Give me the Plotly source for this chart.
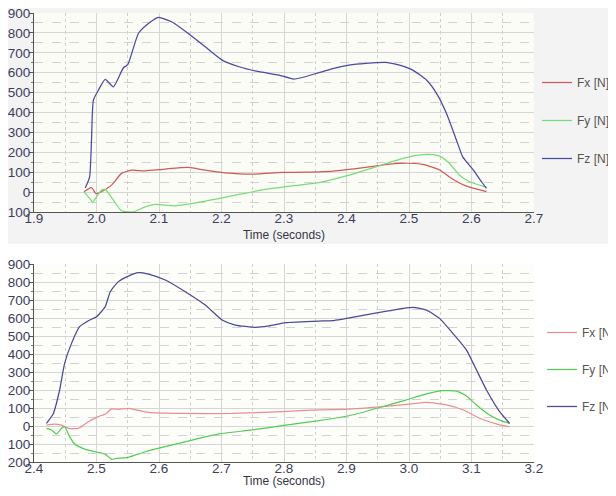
import plotly.graph_objects as go

# ---------------- data ----------------
# Top chart
t1_fz = [1.982, 1.989, 1.992, 1.995, 2.003, 2.014, 2.027, 2.043, 2.05, 2.067, 2.083, 2.099,
         2.12, 2.147, 2.174, 2.201, 2.228, 2.26, 2.292, 2.316, 2.356, 2.378, 2.404, 2.431,
         2.463, 2.485, 2.506, 2.528, 2.544, 2.56, 2.576, 2.586, 2.603, 2.616, 2.624]
fz1 = [20, 77, 261, 462, 512, 566, 529, 625, 640, 797, 847, 878,
       856, 797, 730, 663, 630, 605, 588, 568, 600, 621, 638, 647,
       652, 638, 613, 563, 496, 395, 261, 177, 111, 52, 19]

t1_fx = [1.98, 1.992, 1.999, 2.008, 2.024, 2.04, 2.056, 2.078, 2.11, 2.147, 2.174, 2.206,
         2.249, 2.297, 2.356, 2.378, 2.431, 2.469, 2.496, 2.522, 2.549, 2.57, 2.592, 2.624]
fx1 = [2, 22, -7, 2, 35, 94, 110, 107, 116, 124, 110, 97,
       90, 99, 102, 105, 124, 140, 145, 139, 111, 65, 30, 2]

t1_fy = [1.98, 1.987, 1.994, 2.0, 2.008, 2.014, 2.027, 2.04, 2.059, 2.078, 2.094, 2.126,
         2.163, 2.217, 2.27, 2.324, 2.356, 2.404, 2.447, 2.485, 2.512, 2.533, 2.549, 2.565,
         2.581, 2.597, 2.624]
fy1 = [0, -24, -49, -24, 10, 14, -40, -94, -99, -74, -62, -69,
       -52, -19, 14, 35, 48, 85, 127, 164, 184, 190, 181, 144,
       85, 52, 24]

# Bottom chart
t2_fz = [2.42, 2.431, 2.441, 2.449, 2.46, 2.473, 2.487, 2.5, 2.514, 2.522, 2.535, 2.551,
         2.567, 2.583, 2.61, 2.642, 2.674, 2.701, 2.722, 2.755, 2.776, 2.803, 2.856, 2.878,
         2.931, 2.974, 3.006, 3.028, 3.049, 3.07, 3.092, 3.108, 3.124, 3.145, 3.161]
fz2 = [15, 70, 200, 348, 459, 552, 585, 607, 663, 746, 802, 833,
       852, 844, 811, 746, 672, 589, 561, 548, 556, 574, 583, 585,
       617, 644, 659, 644, 598, 515, 422, 311, 200, 80, 15]

t2_fx = [2.42, 2.433, 2.444, 2.455, 2.471, 2.487, 2.503, 2.516, 2.523, 2.535, 2.551, 2.583,
         2.637, 2.717, 2.797, 2.856, 2.904, 2.958, 3.001, 3.028, 3.06, 3.087, 3.113, 3.145,
         3.161]
fx2 = [5, 11, 5, -13, -13, 24, 52, 70, 94, 93, 98, 76,
       70, 70, 80, 90, 94, 107, 122, 131, 117, 89, 43, 6,
       -4]

t2_fy = [2.42, 2.428, 2.436, 2.444, 2.449, 2.457, 2.465, 2.481, 2.498, 2.514, 2.524, 2.532,
         2.551, 2.578, 2.61, 2.653, 2.696, 2.749, 2.797, 2.856, 2.904, 2.958, 2.995, 3.028,
         3.054, 3.076, 3.092, 3.108, 3.129, 3.145, 3.161]
fy2 = [-13, -22, -44, -13, -4, -59, -100, -128, -143, -156, -185, -180,
       -174, -143, -115, -78, -44, -22, 2, 30, 57, 107, 144, 178,
       196, 194, 167, 117, 61, 33, 15]

series_names = ["Fx [N]", "Fy [N]", "Fz [N]"]
x_title = "Time (seconds)"
x1_range = [1.9, 2.7]
x2_range = [2.4, 3.2]
y1_range = [-100, 900]
y2_range = [-200, 900]

# ---------------- style ----------------
# the page has an 8px body margin, so the figure is drawn 8px in from the top-left
OFF = 8
W, H = 608, 480
top_cols = ["#cf5a5a", "#77dd77", "#4a4aa0"]
bot_cols = ["#e89090", "#55cc55", "#4a4a96"]
font_fam = "Liberation Sans, Arial, sans-serif"
tick_col = "#3d3d5c"

def px_x(p):
    return (p - OFF) / W

def px_y(p):
    return 1 - (p - OFF) / H

fig = go.Figure()

top = [(t1_fx, fx1), (t1_fy, fy1), (t1_fz, fz1)]
bot = [(t2_fx, fx2), (t2_fy, fy2), (t2_fz, fz2)]
for i, (t, v) in enumerate(top):
    fig.add_trace(go.Scatter(x=t, y=v, mode="lines", name=series_names[i],
                             line=dict(color=top_cols[i], width=1.25, shape="spline", smoothing=0.5),
                             xaxis="x", yaxis="y", legend="legend",
                             legendgroup="t%d" % i))
for i, (t, v) in enumerate(bot):
    fig.add_trace(go.Scatter(x=t, y=v, mode="lines", name=series_names[i],
                             line=dict(color=bot_cols[i], width=1.25, shape="spline", smoothing=0.5),
                             xaxis="x2", yaxis="y2", legend="legend2",
                             legendgroup="b%d" % i))

xdom = [px_x(34), px_x(534)]

def xaxis(rng, anchor):
    return dict(range=rng, domain=xdom, anchor=anchor, dtick=0.1, tick0=1.9,
                tickformat=".1f", showline=True, linecolor="#555555", linewidth=1,
                ticks="", ticklabelstandoff=-6, ticklabeloverflow="allow",
                showgrid=True, gridcolor="#d6d6d6", gridwidth=1,
                minor=dict(dtick=0.05, showgrid=True, griddash="dot", gridcolor="#cfcfcf",
                           ticks=""),
                tickfont=dict(family=font_fam, size=13.5, color=tick_col),
                title=dict(text=x_title, font=dict(family=font_fam, size=12, color="#333344"),
                           standoff=5),
                automargin=False,
                zeroline=False, fixedrange=True)

def yaxis(rng, dom, anchor):
    return dict(range=rng, domain=dom, anchor=anchor, dtick=100,
                showline=True, linecolor="#555555", linewidth=1,
                ticks="outside", ticklen=4, tickcolor="#555555", ticklabelstandoff=-4,
                ticklabeloverflow="allow",
                showgrid=True, gridcolor="#d6d6d6", gridwidth=1,
                minor=dict(dtick=50, showgrid=True, griddash="dash", gridcolor="#d2d2d2",
                           ticks="outside", ticklen=2, tickcolor="#777777"),
                tickfont=dict(family=font_fam, size=13.5, color=tick_col),
                automargin=False,
                zeroline=False, fixedrange=True)

fig.update_layout(
    width=W, height=H,
    margin=dict(l=0, r=0, t=0, b=0, autoexpand=False),
    paper_bgcolor="white",
    plot_bgcolor="rgba(0,0,0,0)",
    xaxis=xaxis(x1_range, "y"),
    yaxis=yaxis(y1_range, [px_y(212), px_y(13)], "x"),
    xaxis2=xaxis(x2_range, "y2"),
    yaxis2=yaxis(y2_range, [px_y(462), px_y(264)], "x2"),
    legend=dict(x=px_x(537), y=px_y(68), xanchor="left", yanchor="top",
                bgcolor="rgba(0,0,0,0)", tracegroupgap=19,
                font=dict(family=font_fam, size=12, color="#555555")),
    legend2=dict(x=px_x(542), y=px_y(318), xanchor="left", yanchor="top",
                 bgcolor="rgba(0,0,0,0)", tracegroupgap=18,
                 font=dict(family=font_fam, size=12, color="#555555")),
    showlegend=True,
    shapes=[
        dict(type="rect", xref="paper", yref="paper", x0=0, x1=1, y0=px_y(244), y1=1,
             fillcolor="#f3f3f3", line=dict(width=0), layer="below"),
        dict(type="rect", xref="x domain", yref="y domain", x0=0, x1=1, y0=0, y1=1,
             fillcolor="#fcfcf6", line=dict(width=0), layer="below"),
        dict(type="rect", xref="x2 domain", yref="y2 domain", x0=0, x1=1, y0=0, y1=1,
             fillcolor="#fdfdf9", line=dict(width=0), layer="below"),
    ],
)

fig.write_html("out.html")
